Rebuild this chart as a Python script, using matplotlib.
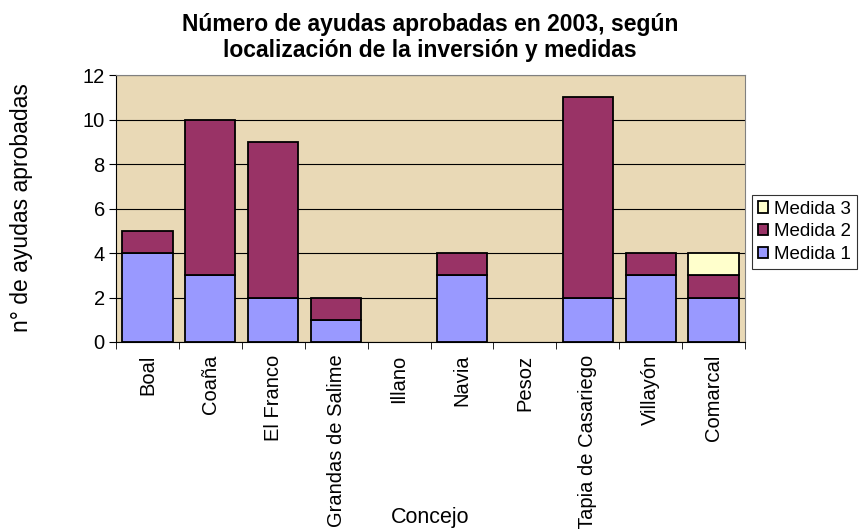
import numpy as np
import matplotlib.pyplot as plt

plt.rcParams['font.family'] = ['Liberation Sans', 'DejaVu Sans']

concejos = ['Boal', 'Coaña', 'El Franco', 'Grandas de Salime', 'Illano',
            'Navia', 'Pesoz', 'Tapia de Casariego', 'Villayón', 'Comarcal']
medida1 = [4, 3, 2, 1, 0, 3, 0, 2, 3, 2]
medida2 = [1, 7, 7, 1, 0, 1, 0, 9, 1, 1]
medida3 = [0, 0, 0, 0, 0, 0, 0, 0, 0, 1]

col1 = '#9999FF'
col2 = '#993366'
col3 = '#FFFFCC'

fig = plt.figure(figsize=(8.61, 5.29), dpi=100)
ax = fig.add_axes([0.1347, 0.3535, 0.7306, 0.5045])
ax.set_facecolor('#E9D9B6')

x = np.arange(len(concejos))
m1 = np.array(medida1)
m2 = np.array(medida2)
m3 = np.array(medida3)

ax.set_axisbelow(True)
ax.yaxis.grid(True, color='black', linewidth=0.8)

kw = dict(width=0.8, edgecolor='black', linewidth=1.3)
# skip zero-height segments so they leave no stray edge lines
k1 = m1 > 0
k2 = m2 > 0
k3 = m3 > 0
b1 = ax.bar(x[k1], m1[k1], color=col1, label='Medida 1', **kw)
b2 = ax.bar(x[k2], m2[k2], bottom=m1[k2], color=col2, label='Medida 2', **kw)
b3 = ax.bar(x[k3], m3[k3], bottom=(m1 + m2)[k3], color=col3, label='Medida 3', **kw)

ax.set_xlim(-0.5, len(concejos) - 0.5)
ax.set_ylim(0, 12)
ax.set_yticks(range(0, 13, 2))
ax.set_xticks(x)
ax.set_xticklabels(concejos, rotation=90, fontsize=14.5)
ax.tick_params(axis='x', length=0, pad=9)
ax.set_xticks(np.arange(-0.5, len(concejos)), minor=True)
ax.tick_params(axis='x', which='minor', length=5, direction='out', color='black')
ax.tick_params(axis='y', labelsize=14.5, length=5, direction='out', color='black', pad=3)

for side in ['top', 'right']:
    ax.spines[side].set_color('#808080')
for side in ['left', 'bottom']:
    ax.spines[side].set_color('black')

fig.text(430 / 861, 1 - 24 / 529, 'Número de ayudas aprobadas en 2003, según',
         ha='center', va='center', fontsize=16.5, fontweight='bold')
fig.text(430 / 861, 1 - 51 / 529, 'localización de la inversión y medidas',
         ha='center', va='center', fontsize=16.5, fontweight='bold')

fig.text(22 / 861, 1 - 208 / 529, 'n° de ayudas aprobadas', rotation=90,
         ha='center', va='center', fontsize=16.5)
fig.text(430 / 861, 1 - 518 / 529, 'Concejo', ha='center', va='center', fontsize=15.5)

handles = [b3, b2, b1]
leg = fig.legend(handles, ['Medida 3', 'Medida 2', 'Medida 1'],
                 loc='upper left', bbox_to_anchor=(752 / 861, 1 - 195 / 529), fontsize=13.5,
                 frameon=True, fancybox=False, edgecolor='black',
                 handlelength=0.55, handleheight=0.55, handletextpad=0.35,
                 borderaxespad=0, labelspacing=0.3, borderpad=0.3)
leg.get_frame().set_linewidth(0.8)

fig.savefig('out.png', dpi=100)
